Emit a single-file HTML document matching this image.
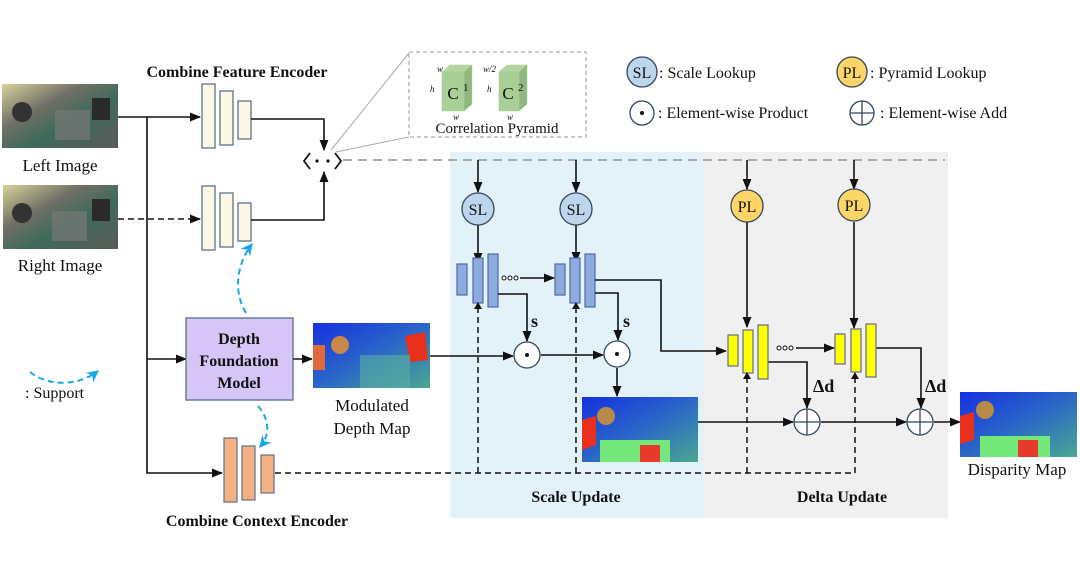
<!DOCTYPE html>
<html><head><meta charset="utf-8"><style>
html,body{margin:0;padding:0;background:#fff;width:1080px;height:586px;overflow:hidden}
svg{display:block}
text{font-family:"Liberation Serif",serif;fill:#111}
</style></head><body>
<svg width="1080" height="586" viewBox="0 0 1080 586" xmlns="http://www.w3.org/2000/svg">
<defs>
<marker id="a" viewBox="0 0 10 10" refX="9" refY="5" markerWidth="7" markerHeight="7" orient="auto"><path d="M0,1 L10,5 L0,9 z" fill="#111"/></marker>
<marker id="b" viewBox="0 0 10 10" refX="9" refY="5" markerWidth="6" markerHeight="6" orient="auto"><path d="M0,0 L10,5 L0,10 L3,5 z" fill="#1aa7e8"/></marker>
<linearGradient id="img" x1="0" y1="0" x2="1" y2="1"><stop offset="0" stop-color="#d9d29a"/><stop offset=".35" stop-color="#6f6f66"/><stop offset=".6" stop-color="#3e6a5a"/><stop offset="1" stop-color="#5a5a58"/></linearGradient>
<linearGradient id="dep" x1="0" y1="0" x2="1" y2="1"><stop offset="0" stop-color="#1530e0"/><stop offset=".5" stop-color="#2a66c8"/><stop offset="1" stop-color="#4aa890"/></linearGradient>
</defs>
<rect x="450" y="152" width="253" height="366" fill="#e3f1f9"/>
<rect x="703" y="152" width="245" height="366" fill="#f0f0f0"/>
<rect x="2" y="84" width="116" height="64" fill="url(#img)"/>
<circle cx="22" cy="112" r="10" fill="#333"/><rect x="92" y="98" width="18" height="22" fill="#2a2a2a"/><rect x="55" y="110" width="35" height="30" fill="#777" opacity=".7"/>
<rect x="3" y="185" width="115" height="64" fill="url(#img)"/>
<circle cx="22" cy="213" r="10" fill="#333"/><rect x="92" y="199" width="18" height="22" fill="#2a2a2a"/><rect x="52" y="211" width="35" height="30" fill="#777" opacity=".7"/>
<text x="60" y="171" font-size="17" text-anchor="middle">Left Image</text>
<text x="60" y="271" font-size="17" text-anchor="middle">Right Image</text>
<text x="237" y="77" font-size="16" font-weight="bold" text-anchor="middle">Combine Feature Encoder</text>
<path d="M118,117 H200" stroke="#111" stroke-width="1.6" fill="none" marker-end="url(#a)"/>
<path d="M147,117 V473 H222" stroke="#111" stroke-width="1.6" fill="none" marker-end="url(#a)"/>
<path d="M147,359 H186" stroke="#111" stroke-width="1.6" fill="none" marker-end="url(#a)"/>
<path d="M118,219 H200" stroke="#111" stroke-width="1.6" stroke-dasharray="6,4" fill="none" marker-end="url(#a)"/>
<g fill="#fdf7e6" stroke="#5d7189" stroke-width="1.3">
<rect x="202" y="84" width="13" height="64"/><rect x="220" y="91" width="13" height="54"/><rect x="238" y="101" width="13" height="38"/>
<rect x="202" y="186" width="13" height="64"/><rect x="220" y="193" width="13" height="54"/><rect x="238" y="203" width="13" height="38"/>
</g>
<path d="M251,119 H324 V150" stroke="#111" stroke-width="1.6" fill="none" marker-end="url(#a)"/>
<path d="M251,220 H324 V172" stroke="#111" stroke-width="1.6" fill="none" marker-end="url(#a)"/>
<path d="M310,153 L304,161 L310,169 M335,153 L341,161 L335,169" stroke="#111" stroke-width="1.8" fill="none"/>
<circle cx="317" cy="161" r="1.6" fill="#111"/><circle cx="328" cy="161" r="1.6" fill="#111"/>
<path d="M343,160 H945" stroke="#aaa" stroke-width="2" stroke-dasharray="9,6" fill="none"/>
<line x1="331" y1="150" x2="409" y2="53" stroke="#aaa" stroke-width="1"/>
<line x1="336" y1="152" x2="409" y2="137" stroke="#aaa" stroke-width="1"/>
<rect x="409" y="52" width="177" height="85" fill="#fff" stroke="#999" stroke-dasharray="4,3"/>
<g stroke="#a9c99a" stroke-width=".5">
<polygon points="442,72 464,72 472,65 450,65" fill="#b4d4a3"/><polygon points="464,72 472,65 472,104 464,111" fill="#8fb97f"/><rect x="442" y="72" width="22" height="39" fill="#a8d096"/>
<polygon points="499,72 519,72 527,65 507,65" fill="#b4d4a3"/><polygon points="519,72 527,65 527,104 519,111" fill="#8fb97f"/><rect x="499" y="72" width="20" height="39" fill="#a8d096"/>
</g>
<text x="453" y="99" font-size="17" font-family="Liberation Mono" text-anchor="middle">C</text><text x="463" y="91" font-size="11">1</text>
<text x="508" y="99" font-size="17" font-family="Liberation Mono" text-anchor="middle">C</text><text x="518" y="91" font-size="11">2</text>
<g font-size="9" font-style="italic"><text x="437" y="72">w</text><text x="430" y="92">h</text><text x="453" y="120">w</text><text x="483" y="72">w/2</text><text x="487" y="92">h</text><text x="507" y="120">w</text></g>
<text x="497" y="133" font-size="15" text-anchor="middle">Correlation Pyramid</text>
<circle cx="642" cy="72" r="15" fill="#bcd6ee" stroke="#33475e" stroke-width="1.3"/><text x="642" y="78" font-size="16" text-anchor="middle">SL</text>
<text x="659" y="78" font-size="16">: Scale Lookup</text>
<circle cx="852" cy="72" r="15" fill="#fdd667" stroke="#33475e" stroke-width="1.3"/><text x="852" y="78" font-size="16" text-anchor="middle">PL</text>
<text x="870" y="78" font-size="16">: Pyramid Lookup</text>
<circle cx="642" cy="113" r="12" fill="#fff" stroke="#33475e" stroke-width="1.3"/><circle cx="642" cy="113" r="2" fill="#111"/>
<text x="658" y="118" font-size="16">: Element-wise Product</text>
<circle cx="862" cy="113" r="12" fill="#fff" stroke="#33475e" stroke-width="1.3"/><path d="M850,113 H874 M862,101 V125" stroke="#33475e" stroke-width="1.3"/>
<text x="880" y="118" font-size="16">: Element-wise Add</text>
<g stroke="#111" stroke-width="1.6" fill="none" marker-end="url(#a)">
<path d="M478,160 V192"/><path d="M576,160 V192"/><path d="M747,160 V189"/><path d="M854,160 V189"/>
<path d="M478,225 V263"/><path d="M576,225 V262"/><path d="M747,222 V327"/><path d="M854,222 V328"/>
</g>
<g stroke="#33475e" stroke-width="1.3"><circle cx="478" cy="209" r="16" fill="#bcd6ee"/><circle cx="576" cy="209" r="16" fill="#bcd6ee"/><circle cx="747" cy="206" r="16" fill="#fdd667"/><circle cx="854" cy="205" r="16" fill="#fdd667"/></g>
<g font-size="16" text-anchor="middle"><text x="478" y="215">SL</text><text x="576" y="215">SL</text><text x="747" y="212">PL</text><text x="854" y="211">PL</text></g>
<g fill="#8faadc" stroke="#4d6aa8" stroke-width="1.2">
<rect x="457" y="264" width="10" height="31"/><rect x="473" y="258" width="10" height="45"/><rect x="488" y="254" width="10" height="53"/>
<rect x="555" y="264" width="10" height="31"/><rect x="570" y="258" width="10" height="45"/><rect x="585" y="254" width="10" height="53"/>
</g>
<g fill="#fff" stroke="#111" stroke-width="1"><circle cx="504" cy="278" r="2"/><circle cx="510" cy="278" r="2"/><circle cx="516" cy="278" r="2"/>
<circle cx="779" cy="348" r="2"/><circle cx="785" cy="348" r="2"/><circle cx="791" cy="348" r="2"/></g>
<g stroke="#111" stroke-width="1.6" fill="none" marker-end="url(#a)">
<path d="M520,278 H554"/>
<path d="M498,294 H527 V341"/>
<path d="M595,293 H618 V340"/>
<path d="M595,280 H661 V351 H726"/>
<path d="M430,356 H513"/>
<path d="M541,355 H603"/>
<path d="M617,368 V396"/>
<path d="M698,422 H793"/>
<path d="M821,422 H906"/>
<path d="M934,422 H960"/>
<path d="M768,362 H807 V408"/>
<path d="M876,348 H921 V408"/>
<path d="M796,348 H834"/>
</g>
<g font-size="18" font-weight="bold"><text x="531" y="327">s</text><text x="623" y="327">s</text><text x="813" y="392">Δd</text><text x="925" y="392">Δd</text></g>
<g stroke="#33475e" stroke-width="1.3" fill="#fff"><circle cx="527" cy="355" r="13"/><circle cx="617" cy="354" r="13"/><circle cx="807" cy="422" r="13"/><circle cx="920" cy="422" r="13"/></g>
<circle cx="527" cy="355" r="2" fill="#111"/><circle cx="617" cy="354" r="2" fill="#111"/>
<path d="M794,422 H820 M807,409 V435 M907,422 H933 M920,409 V435" stroke="#33475e" stroke-width="1.3"/>
<g fill="#ffff00" stroke="#5d6d8a" stroke-width="1.2">
<rect x="728" y="335" width="10" height="31"/><rect x="743" y="330" width="10" height="43"/><rect x="758" y="325" width="10" height="54"/>
<rect x="835" y="334" width="10" height="30"/><rect x="851" y="329" width="10" height="43"/><rect x="866" y="324" width="10" height="53"/>
</g>
<g stroke="#111" stroke-width="1.5" stroke-dasharray="6,4" fill="none">
<path d="M275,473 H855 V374"/><path d="M478,473 V305"/><path d="M576,473 V304"/><path d="M747,473 V374"/>
</g>
<g fill="#111"><path d="M478,302 l-4,7 h8z"/><path d="M576,302 l-4,7 h8z"/><path d="M747,372 l-4,7 h8z"/><path d="M855,372 l-4,7 h8z"/></g>
<rect x="186" y="318" width="107" height="82" fill="#d5c6f7" stroke="#5a6e8a" stroke-width="1.3"/>
<g font-size="16" font-weight="bold" text-anchor="middle"><text x="239" y="344">Depth</text><text x="239" y="366">Foundation</text><text x="239" y="388">Model</text></g>
<path d="M293,359 H312" stroke="#111" stroke-width="1.6" marker-end="url(#a)"/>
<rect x="313" y="323" width="117" height="65" fill="url(#dep)"/>
<circle cx="340" cy="345" r="9" fill="#c8884a"/><polygon points="405,336 425,332 428,360 410,362" fill="#e8301c"/><rect x="313" y="345" width="12" height="25" fill="#e06a3c"/><rect x="360" y="355" width="50" height="33" fill="#5ab0a0" opacity=".6"/>
<text x="372" y="411" font-size="17" text-anchor="middle">Modulated</text><text x="372" y="434" font-size="17" text-anchor="middle">Depth Map</text>
<rect x="582" y="397" width="116" height="65" fill="url(#dep)"/>
<circle cx="606" cy="416" r="9" fill="#b88a4a"/><polygon points="582,420 596,416 596,445 582,450" fill="#e8301c"/><rect x="600" y="440" width="70" height="22" fill="#74e87a"/><rect x="640" y="445" width="20" height="17" fill="#e83a2a"/>
<rect x="960" y="392" width="117" height="65" fill="url(#dep)"/>
<circle cx="985" cy="410" r="9" fill="#b88a4a"/><polygon points="960,416 974,412 974,440 960,444" fill="#e8301c"/><rect x="980" y="436" width="70" height="21" fill="#74e87a"/><rect x="1018" y="440" width="20" height="17" fill="#e83a2a"/>
<text x="1017" y="475" font-size="17" text-anchor="middle">Disparity Map</text>
<g fill="#f4b183" stroke="#5d7189" stroke-width="1.2">
<rect x="224" y="438" width="13" height="64"/><rect x="242" y="446" width="13" height="54"/><rect x="261" y="455" width="13" height="38"/>
</g>
<text x="257" y="526" font-size="16" font-weight="bold" text-anchor="middle">Combine Context Encoder</text>
<g stroke="#1aa7e8" stroke-width="2" stroke-dasharray="6,4" fill="none" marker-end="url(#b)">
<path d="M246,313 C232,290 238,262 252,244"/>
<path d="M258,406 C270,420 270,435 260,447"/>
<path d="M30,372 C50,388 80,385 98,371"/>
</g>
<text x="25" y="398" font-size="16">: Support</text>
<g font-size="16" font-weight="bold" text-anchor="middle"><text x="576" y="502">Scale Update</text><text x="842" y="502">Delta Update</text></g>
</svg>
</body></html>
